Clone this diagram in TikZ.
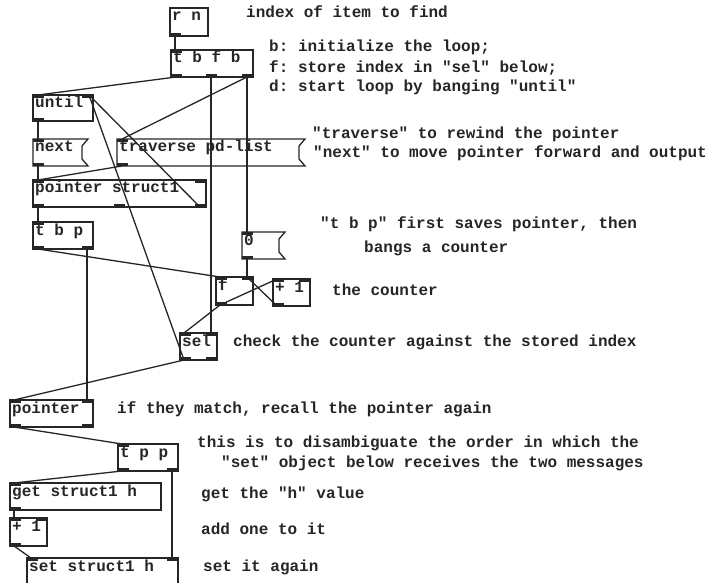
\documentclass[tikz,border=0pt]{standalone}
\usepackage{fontspec}
\setmonofont{Liberation Mono}
\usetikzlibrary{calc}
\tikzset{
  pd/.style={line width=1.3pt, draw=black!85},
  pdbox/.style={pd, anchor=north west, inner sep=0pt, outer sep=0pt},
  pdmsg/.style={anchor=north west, inner sep=0pt, outer sep=0pt},
  pdtxt/.style={anchor=base west, inner sep=0pt, font=\fontsize{16}{18}\selectfont\ttfamily\bfseries, text=black!85},
  wire/.style={line width=1.3pt, draw=black!85},
  nub/.style={fill=black!85},
}
\newcommand\pdobj[6]{%
  \node[pdbox, minimum width={#4-#2}, minimum height={#5-#3}] (#1) at (#2,#3) {};
  \node[pdtxt] (#1-t) at (#2+2,#3+13) {#6};}
\newcommand\pdmsgbox[6]{%
  \node[pdmsg, minimum width={#4-#2}, minimum height={#5-#3}] (#1) at (#2,#3) {};
  \draw[pd] (#1.north west) -- (#1.north east) -- ++(-6,7) -- ($(#1.south east)+(-6,-7)$) -- (#1.south east) -- (#1.south west) -- cycle;
  \node[pdtxt] (#1-t) at (#2+2,#3+13) {#6};}
\newcommand\inl[2]{\fill[nub] ($(#1.north west)+(#2,0)$) rectangle ++(11,3);}
\newcommand\outl[2]{\fill[nub] ($(#1.south west)+(#2,0)$) rectangle ++(11,-3);}
\newcommand\wire[4]{\draw[wire] ($(#1.south west)+(#2,0)$) -- ($(#3.north west)+(#4,0)$);}
\begin{document}
\begin{tikzpicture}[x=1pt,y=-1pt]
\useasboundingbox[fill=white] (0,0) rectangle (718,583);
% objects
\pdobj{rn}{170}{8}{208}{36}{r n}
\pdobj{tbfb}{171}{50}{253}{77}{t b f b}
\pdobj{until}{33}{95}{93}{121}{until}
\pdmsgbox{next}{33}{139}{88}{166}{next}
\pdmsgbox{trav}{117}{139}{305}{166}{traverse pd-list}
\pdobj{ps}{33}{180}{206}{207}{pointer struct1}
\pdobj{tbp}{33}{222}{93}{249}{t b p}
\pdmsgbox{zero}{242}{232}{285}{259}{0}
\pdobj{f}{216}{277}{253}{305}{f}
\pdobj{plus}{273}{279}{310}{306}{+ 1}
\pdobj{sel}{180}{333}{217}{360}{sel}
\pdobj{ptr}{10}{400}{93}{427}{pointer}
\pdobj{tpp}{118}{444}{178}{471}{t p p}
\pdobj{get}{10}{483}{161}{510}{get struct1 h}
\pdobj{plustwo}{10}{518}{47}{546}{+ 1}
\pdobj{set}{27}{558}{178}{600}{set struct1 h}
% inlets / outlets
\outl{rn}{0}
\inl{tbfb}{0}\outl{tbfb}{0}\outl{tbfb}{35}\outl{tbfb}{71}
\inl{until}{0}\inl{until}{49}\outl{until}{0}
\inl{next}{0}\outl{next}{0}
\inl{trav}{0}\outl{trav}{0}
\inl{ps}{0}\inl{ps}{162}\outl{ps}{0}\outl{ps}{81}\outl{ps}{162}
\inl{tbp}{0}\outl{tbp}{0}\outl{tbp}{49}
\inl{zero}{0}\outl{zero}{0}
\inl{f}{0}\inl{f}{26}\outl{f}{0}
\inl{plus}{0}\inl{plus}{26}\outl{plus}{0}
\inl{sel}{0}\inl{sel}{26}\outl{sel}{0}\outl{sel}{26}
\inl{ptr}{0}\inl{ptr}{72}\outl{ptr}{0}\outl{ptr}{72}
\inl{tpp}{0}\outl{tpp}{0}\outl{tpp}{49}
\inl{get}{0}\outl{get}{0}
\inl{plustwo}{0}\inl{plustwo}{26}\outl{plustwo}{0}
\inl{set}{0}\inl{set}{140}
% connections
\wire{rn}{5}{tbfb}{4}
\wire{tbfb}{5}{until}{5}
\wire{tbfb}{40}{sel}{31}
\wire{tbfb}{76}{trav}{5}
\wire{tbfb}{76}{zero}{5}
\wire{until}{5}{next}{5}
\wire{next}{5}{ps}{5}
\wire{trav}{5}{ps}{5}
\wire{ps}{5}{tbp}{5}
\wire{ps}{167}{until}{56}
\wire{sel}{4}{until}{56}
\wire{tbp}{5}{f}{4}
\wire{tbp}{54}{ptr}{77}
\wire{zero}{5}{f}{31}
\wire{f}{4}{plus}{4}
\wire{plus}{4}{f}{31}
\wire{f}{4}{sel}{4}
\wire{sel}{4}{ptr}{4}
\wire{ptr}{4}{tpp}{4}
\wire{tpp}{4}{get}{4}
\wire{tpp}{54}{set}{145}
\wire{get}{4}{plustwo}{4}
\wire{plustwo}{4}{set}{4}
% comments
\node[pdtxt] (c1) at (246,18) {index of item to find};
\node[pdtxt] (c2) at (269,52) {b: initialize the loop;};
\node[pdtxt] (c3) at (269,73) {f: store index in "sel" below;};
\node[pdtxt] (c4) at (269,92) {d: start loop by banging "until"};
\node[pdtxt] (c5) at (312,139) {"traverse" to rewind the pointer};
\node[pdtxt] (c6) at (313,158) {"next" to move pointer forward and output};
\node[pdtxt] (c7) at (320,229) {"t b p" first saves pointer, then};
\node[pdtxt] (c8) at (364,252) {bangs a counter};
\node[pdtxt] (c9) at (332,295) {the counter};
\node[pdtxt] (c10) at (233,346) {check the counter against the stored index};
\node[pdtxt] (c11) at (117,413) {if they match, recall the pointer again};
\node[pdtxt] (c12) at (197,447) {this is to disambiguate the order in which the};
\node[pdtxt] (c13) at (221,467) {"set" object below receives the two messages};
\node[pdtxt] (c14) at (201,498) {get the "h" value};
\node[pdtxt] (c15) at (201,534) {add one to it};
\node[pdtxt] (c16) at (203,571) {set it again};
\end{tikzpicture}
\end{document}
